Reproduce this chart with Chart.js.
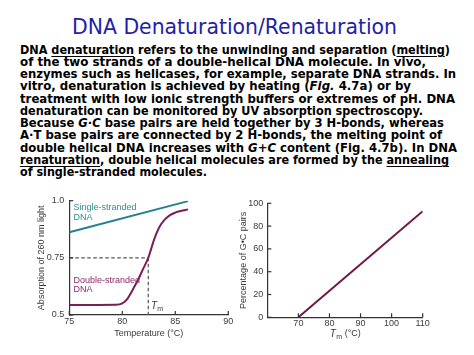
<!DOCTYPE html>
<html><head><meta charset="utf-8">
<script src="https://cdn.jsdelivr.net/npm/chart.js@4.4.0/dist/chart.umd.min.js"></script>
<style>
html,body{margin:0;padding:0;background:#fff;width:474px;height:355px;overflow:hidden;position:relative;}
#title{position:absolute;left:72px;top:17px;font:21px "DejaVu Sans";line-height:21px;color:#2222a8;white-space:nowrap;transform-origin:0 0;}
.ln{position:absolute;left:20px;font:bold 11.6px "DejaVu Sans";line-height:12.26px;white-space:nowrap;transform-origin:0 0;color:#000;}
.ln u{text-decoration-thickness:1px;text-underline-offset:1.5px;}
#c1{position:absolute;left:0;top:185px;}
#c2{position:absolute;left:237px;top:185px;}
</style>
</head><body>
<div id="title" data-w="325">DNA Denaturation/Renaturation</div>
<div id="text"></div>
<canvas id="c1" width="237" height="165"></canvas>
<canvas id="c2" width="237" height="165"></canvas>
<script>
// ---- text data ----
const bodyLines = [
  'DNA <u>denaturation</u> refers to the unwinding and separation (<u>melting</u>)',
  'of the two strands of a double-helical DNA molecule. In vivo,',
  'enzymes such as helicases, for example, separate DNA strands. In',
  'vitro, denaturation is achieved by heating (<i>Fig.</i> 4.7a) or by',
  'treatment with low ionic strength buffers or extremes of pH. DNA',
  'denaturation can be monitored by UV absorption spectroscopy.',
  'Because <i>G·C</i> base pairs are held together by 3 H-bonds, whereas',
  'A·T base pairs are connected by 2 H-bonds, the melting point of',
  'double helical DNA increases with <i>G+C</i> content (Fig. 4.7b). In DNA',
  '<u>renaturation</u>, double helical molecules are formed by the <u>annealing</u>',
  'of single-stranded molecules.'
];
const lineRightEdges = [450, 426, 456, 411, 455, 423, 444, 442, 457, 449, 207];

// ---- chart (a) data ----
const xTicksA = [75, 80, 85, 90];
const yTicksA = [0.5, 0.75, 1.0];
const yTickLabelsA = ['0.5', '0.75', '1.0'];
const ssTemp = [75, 86.2];
const ssAbs = [0.862, 0.998];
const dsTemp = [75, 79.4, 80, 80.5, 81, 81.5, 82, 82.45, 83, 83.5, 84, 84.5, 85, 85.5, 86.2];
const dsAbs = [0.544, 0.545, 0.551, 0.572, 0.612, 0.655, 0.705, 0.75, 0.83, 0.885, 0.917, 0.937, 0.948, 0.955, 0.962];
const tmValue = 82.45;
const halfAbs = 0.75;

// ---- chart (b) data ----
const xTicksB = [70, 80, 90, 100, 110];
const yTicksB = [0, 20, 40, 60, 80, 100];
const tmTemp = [70, 110];
const gcPct = [0, 93];

// ---- text layout ----
const textBox = document.getElementById('text');
bodyLines.forEach((html, i) => {
  const d = document.createElement('div');
  d.className = 'ln';
  d.style.top = (43.6 + i * 12.26) + 'px';
  d.innerHTML = html;
  d.dataset.w = lineRightEdges[i] - 20;
  textBox.appendChild(d);
});
document.querySelectorAll('#title, .ln').forEach(el => {
  const w = el.getBoundingClientRect().width;
  el.style.transform = 'scaleX(' + (el.dataset.w / w) + ')';
});

// ---- helpers ----
const pts = (xs, ys) => xs.map((x, i) => ({x: x, y: ys[i]}));
const AX = '#333';
const TF = {family: 'Liberation Sans', size: 9};
const TC = '#3a3a3a';

const inwardTicks = {
  id: 'inwardTicks',
  afterDraw(chart) {
    const {ctx, chartArea: a, scales: {x, y}} = chart;
    ctx.save();
    ctx.strokeStyle = AX; ctx.lineWidth = 1.2;
    x.ticks.forEach(t => { const p = x.getPixelForValue(t.value); ctx.beginPath(); ctx.moveTo(p, a.bottom); ctx.lineTo(p, a.bottom - 4); ctx.stroke(); });
    y.ticks.forEach(t => { const p = y.getPixelForValue(t.value); ctx.beginPath(); ctx.moveTo(a.left, p); ctx.lineTo(a.left + 4, p); ctx.stroke(); });
    ctx.restore();
  }
};

function drawTm(ctx, px, py, align) {
  ctx.save();
  ctx.textBaseline = 'middle';
  const f1 = 'italic 10px "Liberation Sans"', f2 = '7px "Liberation Sans"', f3 = '9px "Liberation Sans"';
  ctx.font = f1; const w1 = ctx.measureText('T').width;
  ctx.font = f2; const w2 = ctx.measureText('m').width;
  let extra = '', w3 = 0;
  if (align === 'center') { ctx.font = f3; extra = ' (°C)'; w3 = ctx.measureText(extra).width; }
  const x0 = align === 'center' ? px - (w1 + w2 + w3) / 2 : px;
  ctx.fillStyle = TC;
  ctx.textAlign = 'left';
  ctx.font = f1; ctx.fillText('T', x0, py);
  ctx.font = f2; ctx.fillText('m', x0 + w1 + 0.3, py + 3);
  if (extra) { ctx.font = f3; ctx.fillText(extra, x0 + w1 + w2 + 0.6, py); }
  ctx.restore();
}

const labelsA = {
  id: 'labelsA',
  afterDraw(chart) {
    const {ctx, scales: {x, y}} = chart;
    ctx.save();
    ctx.font = '9px "Liberation Sans"';
    ctx.textAlign = 'left'; ctx.textBaseline = 'middle';
    ctx.fillStyle = '#2f8d9b';
    ctx.fillText('Single-stranded', x.getPixelForValue(75.4), y.getPixelForValue(0.97));
    ctx.fillText('DNA', x.getPixelForValue(75.4), y.getPixelForValue(0.925));
    ctx.fillStyle = '#8b2a6c';
    ctx.fillText('Double-stranded', x.getPixelForValue(75.4), y.getPixelForValue(0.653));
    ctx.fillText('DNA', x.getPixelForValue(75.4), y.getPixelForValue(0.612));
    ctx.restore();
    drawTm(ctx, x.getPixelForValue(82.7), y.getPixelForValue(0.538), 'left');
  }
};

const labelsB = {
  id: 'labelsB',
  afterDraw(chart) {
    const {ctx, chartArea: a} = chart;
    drawTm(ctx, (a.left + a.right) / 2, 149, 'center');
  }
};

const dashed = {borderColor: '#555', borderWidth: 1.2, borderDash: [3.5, 2.5], pointRadius: 0, fill: false};

new Chart(document.getElementById('c1'), {
  type: 'line',
  data: {
    datasets: [
      {data: pts(ssTemp, ssAbs), borderColor: '#24808f', borderWidth: 2, pointRadius: 0},
      {data: pts(dsTemp, dsAbs), borderColor: '#7a1d5b', borderWidth: 2, pointRadius: 0, cubicInterpolationMode: 'monotone'},
      Object.assign({data: pts([75, tmValue], [halfAbs, halfAbs])}, dashed),
      Object.assign({data: pts([tmValue, tmValue], [halfAbs, 0.5])}, dashed)
    ]
  },
  options: {
    responsive: false, animation: false,
    layout: {padding: {left: 0, right: 8.7, top: 15.7, bottom: 0}},
    plugins: {legend: {display: false}, tooltip: {enabled: false}},
    scales: {
      x: {
        type: 'linear', min: 75, max: 90,
        afterBuildTicks: s => { s.ticks = xTicksA.map(v => ({value: v})); },
        afterFit: s => { s.height = 35; },
        grid: {display: false, drawTicks: false},
        border: {display: true, color: AX, width: 1.2},
        ticks: {padding: 1.3, font: TF, color: TC, maxRotation: 0, autoSkip: false},
        title: {display: true, text: 'Temperature (°C)', font: TF, color: TC, padding: {top: 0, bottom: 10.6}}
      },
      y: {
        type: 'linear', min: 0.5, max: 1.0,
        afterBuildTicks: s => { s.ticks = yTicksA.map(v => ({value: v})); },
        afterFit: s => { s.width = 69.3; },
        grid: {display: false, drawTicks: false},
        border: {display: true, color: AX, width: 1.2},
        ticks: {padding: 5, font: TF, color: TC, autoSkip: false,
          callback: v => yTickLabelsA[yTicksA.indexOf(v)]},
        title: {display: true, text: 'Absorption of 260 nm light', font: TF, color: TC, padding: {top: 36.3, bottom: 0}}
      }
    }
  },
  plugins: [inwardTicks, labelsA]
});

new Chart(document.getElementById('c2'), {
  type: 'line',
  data: {
    datasets: [
      {data: pts(tmTemp, gcPct), borderColor: '#6f1a4c', borderWidth: 2, pointRadius: 0}
    ]
  },
  options: {
    responsive: false, animation: false,
    layout: {padding: {left: 0, right: 51.3, top: 18.3, bottom: 0}},
    plugins: {legend: {display: false}, tooltip: {enabled: false}},
    scales: {
      x: {
        type: 'linear', min: 60, max: 110,
        afterBuildTicks: s => { s.ticks = xTicksB.map(v => ({value: v})); },
        afterFit: s => { s.height = 32.7; },
        grid: {display: false, drawTicks: false},
        border: {display: true, color: AX, width: 1.2},
        ticks: {padding: 0.5, font: TF, color: TC, maxRotation: 0, autoSkip: false},
        title: {display: false}
      },
      y: {
        type: 'linear', min: 0, max: 100,
        afterBuildTicks: s => { s.ticks = yTicksB.map(v => ({value: v})); },
        afterFit: s => { s.width = 30.3; },
        grid: {display: false, drawTicks: false},
        border: {display: true, color: AX, width: 1.2},
        ticks: {padding: 4, font: TF, color: TC, autoSkip: false},
        title: {display: true, text: 'Percentage of G•C pairs', font: TF, color: TC, padding: {top: 1.6, bottom: 0}}
      }
    }
  },
  plugins: [inwardTicks, labelsB]
});
</script>
</body></html>
